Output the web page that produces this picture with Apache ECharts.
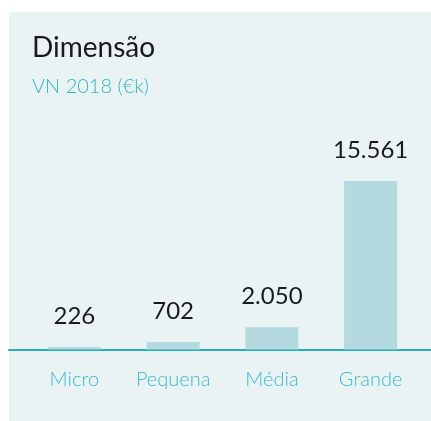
<!DOCTYPE html>
<html>
<head>
<meta charset="utf-8">
<script src="https://cdn.jsdelivr.net/npm/echarts@6/dist/echarts.min.js"></script>
<style>
html,body{margin:0;padding:0;background:#ffffff;}
#panel{position:absolute;left:9px;top:12px;width:422px;height:409px;background:#eaf3f4;}
#chart{position:absolute;left:0;top:0;width:431px;height:421px;}
</style>
</head>
<body>
<div id="panel"></div>
<div id="chart"></div>
<script>
const titleText = "Dimensão";
const subtitleText = "VN 2018 (€k)";
const categories = ["Micro", "Pequena", "Média", "Grande"];
const values = [226, 702, 2050, 15561];

function fmt(v) {
  return String(v).replace(/\B(?=(\d{3})+(?!\d))/g, ".");
}

const chart = echarts.init(document.getElementById('chart'), null, {renderer: 'canvas'});
const FONT = "Lato, 'Open Sans', sans-serif";
chart.setOption({
  backgroundColor: 'transparent',
  animation: false,
  title: {
    text: titleText,
    subtext: subtitleText,
    left: 27,
    top: 29,
    itemGap: 15,
    textStyle: {fontFamily: FONT, fontSize: 28, fontWeight: 400, color: '#1a1a1a'},
    subtextStyle: {fontFamily: FONT, fontSize: 20, fontWeight: 300, color: '#2fb6c0'}
  },
  grid: [
    {left: 25, right: 11, top: 133, bottom: 71.5, containLabel: false},
    {left: 9, right: 0, top: 133, bottom: 71.5, containLabel: false}
  ],
  xAxis: [
    {
      type: 'category', gridIndex: 0, data: categories,
      axisLine: {show: false}, axisTick: {show: false},
      axisLabel: {fontFamily: FONT, fontSize: 20, fontWeight: 300, color: '#38bcc4', margin: 20}
    },
    {
      type: 'value', gridIndex: 1, min: 0, max: 1,
      axisLine: {show: true, lineStyle: {color: '#27aeb6', width: 2}},
      axisTick: {show: false}, axisLabel: {show: false}, splitLine: {show: false}
    }
  ],
  yAxis: [
    {type: 'value', gridIndex: 0, min: 0, max: 20000, show: false, splitLine: {show: false}},
    {type: 'value', gridIndex: 1, min: 0, max: 1, show: false, splitLine: {show: false}}
  ],
  series: [{
    type: 'bar', xAxisIndex: 0, yAxisIndex: 0, z: 5,
    data: values, barWidth: 53,
    itemStyle: {color: '#b4d9df'},
    label: {
      show: true, position: 'top', distance: 19,
      fontFamily: FONT, fontSize: 24, fontWeight: 400, color: '#1a1a1a',
      formatter: p => fmt(p.value)
    }
  }]
});
</script>
</body>
</html>
